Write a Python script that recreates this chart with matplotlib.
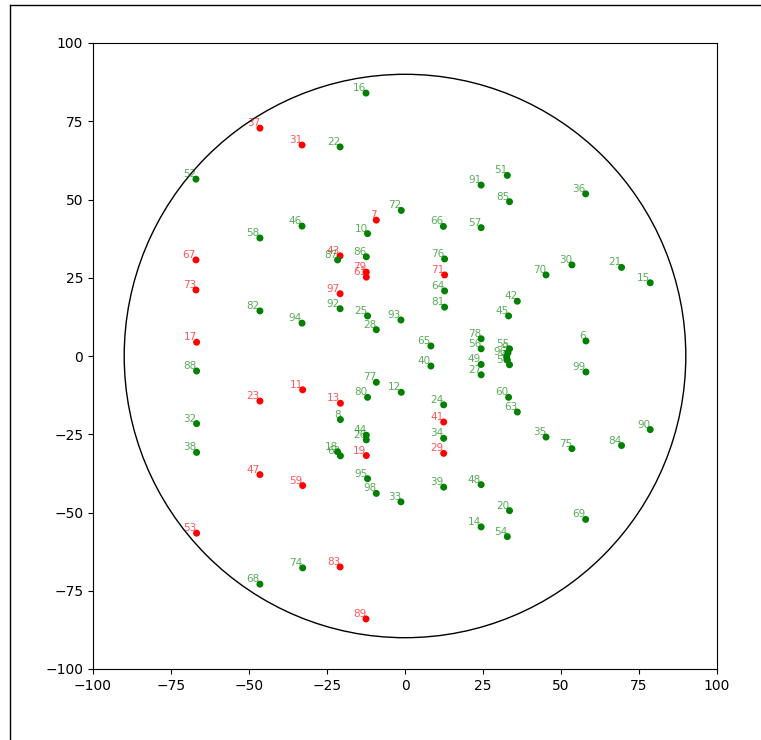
import matplotlib
matplotlib.use("Agg")
import matplotlib.pyplot as plt
from matplotlib.patches import Circle
from matplotlib.lines import Line2D

labels = [16, 37, 31, 22, 52, 51, 91, 85, 36, 72, 7, 10, 66, 57, 46, 58, 86, 43, 87,
          79, 61, 76, 71, 64, 81, 97, 92, 25, 93, 28, 67, 73, 82, 94, 17, 88, 11, 23,
          32, 38, 47, 59, 53, 74, 68, 83, 89, 65, 40, 77, 12, 80, 13, 24, 8, 41, 44,
          26, 34, 29, 19, 18, 62, 95, 98, 39, 33, 45, 78, 56, 49, 27, 55, 9, 96, 4, 50,
          60, 63, 6, 99, 30, 70, 21, 15, 42, 35, 75, 84, 90, 48, 20, 14, 54, 69]
xs = [-12.5, -46.5, -33.0, -20.8, -67.0, 32.8, 24.4, 33.5, 57.9, -1.2, -9.2, -12.0, 12.3, 24.4, -33.0, -46.5, -12.4, -20.8, -21.6,
      -12.4, -12.4, 12.7, 12.7, 12.7, 12.7, -20.8, -20.8, -12.0, -1.3, -9.2, -67.0, -67.0, -46.5, -33.0, -66.8, -66.8, -32.8, -46.5,
      -66.8, -66.8, -46.5, -32.8, -66.8, -32.8, -46.5, -20.8, -12.5, 8.3, 8.3, -9.2, -1.2, -12.0, -20.7, 12.4, -20.7, 12.4, -12.4,
      -12.4, 12.4, 12.4, -12.4, -21.6, -20.7, -12.0, -9.2, 12.4, -1.3, 33.2, 24.4, 24.4, 24.4, 24.4, 33.5, 33.0, 32.6, 32.8, 33.5,
      33.2, 36.0, 58.0, 58.0, 53.5, 45.2, 69.4, 78.6, 36.0, 45.2, 53.5, 69.4, 78.6, 24.4, 33.5, 24.4, 32.8, 57.9]
ys = [84.0, 72.8, 67.4, 66.8, 56.5, 57.7, 54.6, 49.3, 51.8, 46.5, 43.4, 39.1, 41.4, 41.0, 41.5, 37.7, 31.7, 32.0, 30.7,
      26.8, 25.2, 31.0, 25.9, 20.8, 15.6, 19.9, 15.1, 12.8, 11.5, 8.4, 30.7, 21.1, 14.4, 10.5, 4.4, -4.8, -10.8, -14.4,
      -21.6, -30.8, -37.9, -41.4, -56.6, -67.7, -72.9, -67.4, -84.0, 3.2, -3.2, -8.4, -11.6, -13.2, -15.1, -15.6, -20.3, -21.1, -25.3,
      -26.8, -26.3, -31.1, -31.8, -30.6, -31.9, -39.2, -43.9, -41.9, -46.6, 12.8, 5.5, 2.3, -2.7, -6.0, 2.3, 1.0, -0.2, -1.3, -2.8,
      -13.2, -17.9, 4.8, -5.1, 29.1, 25.9, 28.3, 23.4, 17.5, -25.9, -29.6, -28.6, -23.5, -41.1, -49.4, -54.6, -57.7, -52.2]
primes = {2, 3, 5, 7, 11, 13, 17, 19, 23, 29, 31, 37, 41, 43, 47, 53, 59, 61, 67, 71, 73, 79, 83, 89, 97}
circle_radius = 90

fig = plt.figure(figsize=(7.61, 7.40), dpi=100)
ax = fig.add_axes([93 / 761, 1 - 669 / 740, 624 / 761, 626 / 740])
ax.add_patch(Circle((0, 0), circle_radius, fill=False, color='black', lw=1))

colors = ['red' if n in primes else 'green' for n in labels]
ax.scatter(xs, ys, c=colors, s=16, zorder=3)
for n, x, y, c in zip(labels, xs, ys, colors):
    ax.text(x, y, str(n), color=c, alpha=0.65, fontsize=7.5, ha='right', va='bottom')

ax.set_xlim(-100, 100)
ax.set_ylim(-100, 100)
ax.tick_params(labelsize=10)

fig.add_artist(Line2D([10 / 761, 10 / 761], [0, 1 - 5 / 740], color='black', lw=1))
fig.add_artist(Line2D([10 / 761, 1], [1 - 5 / 740, 1 - 5 / 740], color='black', lw=1))

fig.savefig("out.png", dpi=100)
